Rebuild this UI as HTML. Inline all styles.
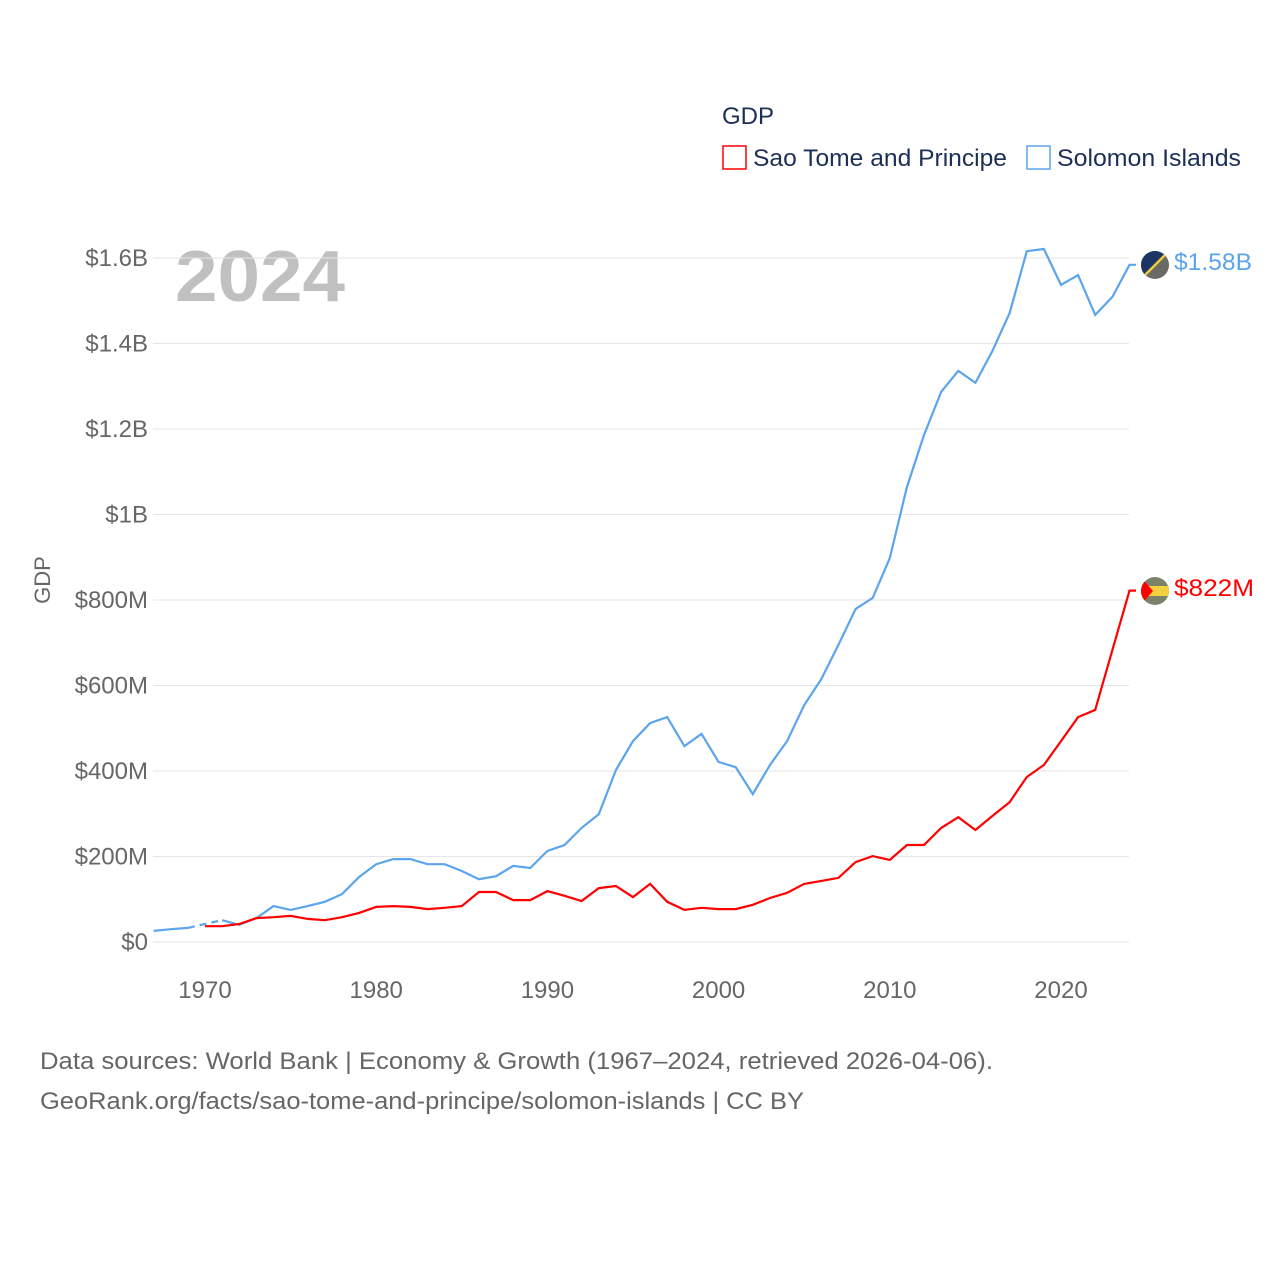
<!DOCTYPE html>
<html><head><meta charset="utf-8"><style>
body{margin:0;background:#fff;font-family:"Liberation Sans",sans-serif}
svg text{font-family:"Liberation Sans",sans-serif}
</style></head><body>
<svg width="1280" height="1280" id="chart">
<rect width="1280" height="1280" fill="#fff"/>
<text x="722" y="124" font-size="24" fill="#1c2f55">GDP</text>
<g><rect x="723" y="146" width="23" height="23" fill="none" stroke="#ff0000" stroke-width="1.5"/><text x="753" y="166" font-size="24" fill="#1c2f55" textLength="254" lengthAdjust="spacingAndGlyphs">Sao Tome and Principe</text></g>
<g><rect x="1027" y="146" width="23" height="23" fill="none" stroke="#5ba4ee" stroke-width="1.5"/><text x="1057" y="166" font-size="24" fill="#1c2f55" textLength="184" lengthAdjust="spacingAndGlyphs">Solomon Islands</text></g>
<text x="175" y="301" font-size="72" font-weight="bold" fill="#c0c0c0" textLength="170" lengthAdjust="spacingAndGlyphs">2024</text>
<text transform="translate(50,580) rotate(-90)" text-anchor="middle" font-size="22" fill="#666">GDP</text>
<g id="grid"></g><g id="lines"></g>
<g>
<clipPath id="c1"><circle cx="1155" cy="265" r="14"/></clipPath>
<g clip-path="url(#c1)"><rect x="1140" y="250" width="30" height="30" fill="#6b6b66"/><polygon points="1140,250 1170,250 1140,280" fill="#1c3466"/><line x1="1140" y1="280" x2="1170" y2="250" stroke="#f2cc3c" stroke-width="2.5"/></g>
<text x="1174" y="270" font-size="24" fill="#5ba4ee" textLength="78" lengthAdjust="spacingAndGlyphs">$1.58B</text></g>
<g>
<clipPath id="c2"><circle cx="1155" cy="591" r="14"/></clipPath>
<g clip-path="url(#c2)"><rect x="1140" y="576" width="30" height="30" fill="#7a826a"/><rect x="1140" y="586" width="30" height="10" fill="#f4d03f"/><polygon points="1140,576 1153,591 1140,606" fill="#ff0000"/></g>
<text x="1174" y="596" font-size="24" fill="#ff0000" textLength="80" lengthAdjust="spacingAndGlyphs">$822M</text></g>
<text x="40" y="1069" font-size="24" fill="#666" textLength="953" lengthAdjust="spacingAndGlyphs">Data sources: World Bank | Economy &amp; Growth (1967–2024, retrieved 2026-04-06).</text>
<text x="40" y="1109" font-size="24" fill="#666" textLength="764" lengthAdjust="spacingAndGlyphs">GeoRank.org/facts/sao-tome-and-principe/solomon-islands | CC BY</text>
</svg>
<script>
const years=[];for(let y=1967;y<=2024;y++)years.push(y);
const solomon=[26,30,33,42,51,40,56,84,75,84,94,112,152,182,194,194,182,182,166,147,154,178,173,213,227,267,299,402,470,512,526,458,487,421,409,346,414,470,554,615,695,779,805,898,1064,1186,1287,1336,1308,1383,1471,1616,1621,1537,1560,1467,1509,1584];
const saoYears=[];for(let y=1970;y<=2024;y++)saoYears.push(y);
const saoTome=[37,37,42,56,58,61,54,51,58,68,82,84,82,77,80,84,117,117,98,98,119,108,96,126,131,105,136,94,75,80,77,77,87,103,115,136,143,150,187,201,192,227,227,267,292,262,295,327,386,414,470,526,543,683,822];
const yTicks=[0,200,400,600,800,1000,1200,1400,1600];
const yTickLabels=["$0","$200M","$400M","$600M","$800M","$1B","$1.2B","$1.4B","$1.6B"];
const xTicks=[1970,1980,1990,2000,2010,2020];
const NS="http://www.w3.org/2000/svg";
const X=y=>205+(y-1970)*17.12;
const Y=v=>942-v/200*85.5;
const grid=document.getElementById('grid'),lines=document.getElementById('lines');
function mk(t,a,p){const e=document.createElementNS(NS,t);for(const k in a)e.setAttribute(k,a[k]);p.appendChild(e);return e;}
yTicks.forEach((v,i)=>{
 const l=mk('line',{x1:153,x2:1129,y1:Y(v),y2:Y(v),stroke:'#e6e6e6','stroke-width':1},grid);
 
 
 const t=mk('text',{x:148,y:Y(v)+8,'text-anchor':'end','font-size':24,fill:'#666'},grid);t.textContent=yTickLabels[i];
 
 
});
xTicks.forEach(v=>{
 const t=mk('text',{x:X(v),y:998,'text-anchor':'middle','font-size':24,fill:'#666'},grid);t.textContent=v;
 
 
});
function path(xs,vs){return xs.map((y,i)=>(i?'L':'M')+X(y).toFixed(1)+','+Y(vs[i]).toFixed(1)).join(' ');}
const s1=mk('path',{d:path(years.slice(0,3),solomon.slice(0,3)),fill:'none',stroke:'#5ba4ee','stroke-width':2.2},lines);


const s2=mk('path',{d:path(years.slice(2,5),solomon.slice(2,5)),fill:'none',stroke:'#5ba4ee','stroke-width':2.2,'stroke-dasharray':'7,5'},lines);


const s3=mk('path',{d:path(years.slice(4),solomon.slice(4))+' L1136,'+Y(solomon[solomon.length-1]).toFixed(1),fill:'none',stroke:'#5ba4ee','stroke-width':2.2},lines);


const r=mk('path',{d:path(saoYears,saoTome)+' L1136,'+Y(saoTome[saoTome.length-1]).toFixed(1),fill:'none',stroke:'#ff0000','stroke-width':2.2},lines);


</script>
</body></html>
